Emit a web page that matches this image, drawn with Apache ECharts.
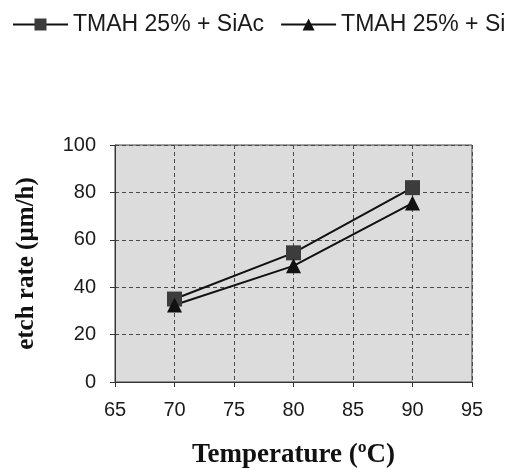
<!DOCTYPE html>
<html>
<head>
<meta charset="utf-8">
<script src="https://cdn.jsdelivr.net/npm/echarts@6/dist/echarts.min.js"></script>
<style>
    html, body { margin: 0; padding: 0; background: #fff; }
    #chart { width: 518px; height: 468px; }
</style>
</head>
<body>
<div id="chart"></div>
<script>
    // temperature (ºC) and etch rate (µm/h)
    var temperature = [70, 80, 90];
    var siAc = [35, 54.5, 82];
    var si = [32.5, 49, 75.5];
    var seriesNames = ['TMAH 25% + SiAc', 'TMAH 25% + Si'];

    var serifBold = {fontFamily: 'Liberation Serif', fontWeight: 'bold', color: '#111'};

    var option = {
        animation: false,
        backgroundColor: '#fff',
        legend: {
            left: 7,
            top: 8,
            itemWidth: 55,
            itemHeight: 15,
            itemGap: 16,
            textStyle: {fontFamily: 'Liberation Sans', fontSize: 23, color: '#1a1a1a'},
            data: seriesNames
        },
        grid: {
            left: 115,
            right: 46,
            top: 145,
            bottom: 86,
            containLabel: false,
            outerBoundsMode: 'none',
            show: true,
            backgroundColor: '#dcdcdc',
            borderColor: '#444',
            borderWidth: 1
        },
        xAxis: {
            type: 'value',
            min: 65,
            max: 95,
            interval: 5,
            name: 'Temperature (ºC)',
            nameLocation: 'middle',
            nameGap: 60,
            nameTextStyle: Object.assign({fontSize: 27}, serifBold),
            axisLine: {lineStyle: {color: '#333', width: 1}},
            axisTick: {show: true, length: 5, lineStyle: {color: '#333'}},
            axisLabel: {fontFamily: 'Liberation Sans', fontSize: 20, color: '#1a1a1a', margin: 18},
            splitLine: {show: true, lineStyle: {color: '#4a4a4a', type: [4, 3], width: 1}}
        },
        yAxis: {
            type: 'value',
            min: 0,
            max: 100,
            interval: 20,
            name: 'etch rate (µm/h)',
            nameLocation: 'middle',
            nameGap: 76,
            nameTextStyle: Object.assign({fontSize: 25}, serifBold),
            axisLine: {show: true, lineStyle: {color: '#333', width: 1}},
            axisTick: {show: true, length: 5, lineStyle: {color: '#333'}},
            axisLabel: {fontFamily: 'Liberation Sans', fontSize: 20, color: '#1a1a1a', margin: 19},
            splitLine: {show: true, lineStyle: {color: '#4a4a4a', type: [4, 3], width: 1}}
        },
        series: [
            {
                name: seriesNames[0],
                type: 'line',
                data: temperature.map(function (t, i) { return [t, siAc[i]]; }),
                symbol: 'rect',
                symbolSize: 15,
                itemStyle: {color: '#3c3c3c'},
                lineStyle: {color: '#111', width: 2}
            },
            {
                name: seriesNames[1],
                type: 'line',
                data: temperature.map(function (t, i) { return [t, si[i]]; }),
                symbol: 'triangle',
                symbolSize: 15,
                itemStyle: {color: '#111'},
                lineStyle: {color: '#111', width: 2}
            }
        ]
    };

    var myChart = echarts.init(document.getElementById('chart'));
    myChart.setOption(option);
</script>
</body>
</html>
